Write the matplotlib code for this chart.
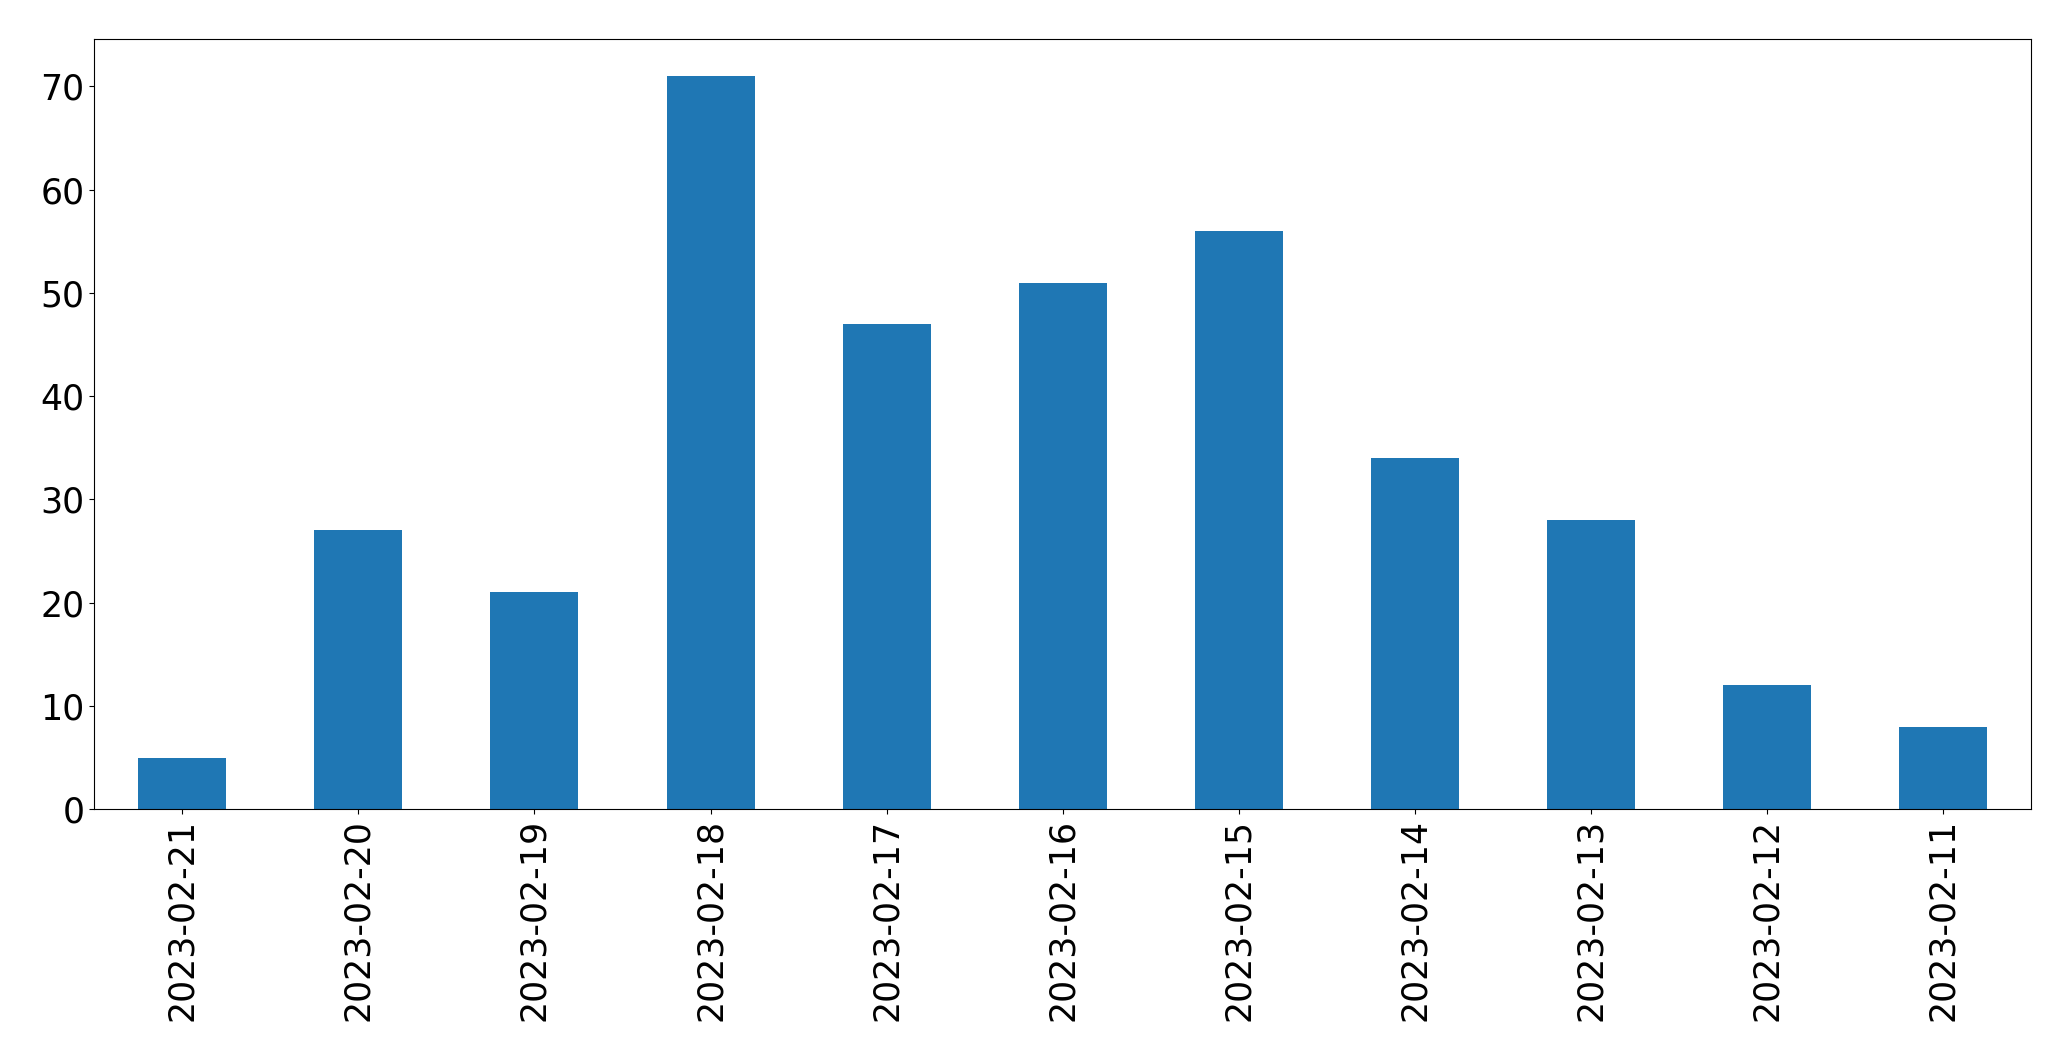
import matplotlib
matplotlib.use('Agg')
import matplotlib.pyplot as plt
import numpy as np

dates = ['2023-02-21', '2023-02-20', '2023-02-19', '2023-02-18', '2023-02-17',
         '2023-02-16', '2023-02-15', '2023-02-14', '2023-02-13', '2023-02-12',
         '2023-02-11']
counts = [5, 27, 21, 71, 47, 51, 56, 34, 28, 12, 8]

fig = plt.figure(figsize=(20.71, 10.61), dpi=100)
ax = fig.add_axes([0.0455, 0.2372, 0.9353, 0.7258])
x = np.arange(len(dates))
ax.bar(x, counts, width=0.5, color='#1f77b4')
ax.set_xlim(-0.5, len(dates) - 0.5)
ax.set_ylim(0, max(counts) * 1.05)
ax.set_xticks(x)
ax.set_xticklabels(dates, rotation=90)
ax.tick_params(labelsize=25)
fig.savefig('out.png', dpi=100)
